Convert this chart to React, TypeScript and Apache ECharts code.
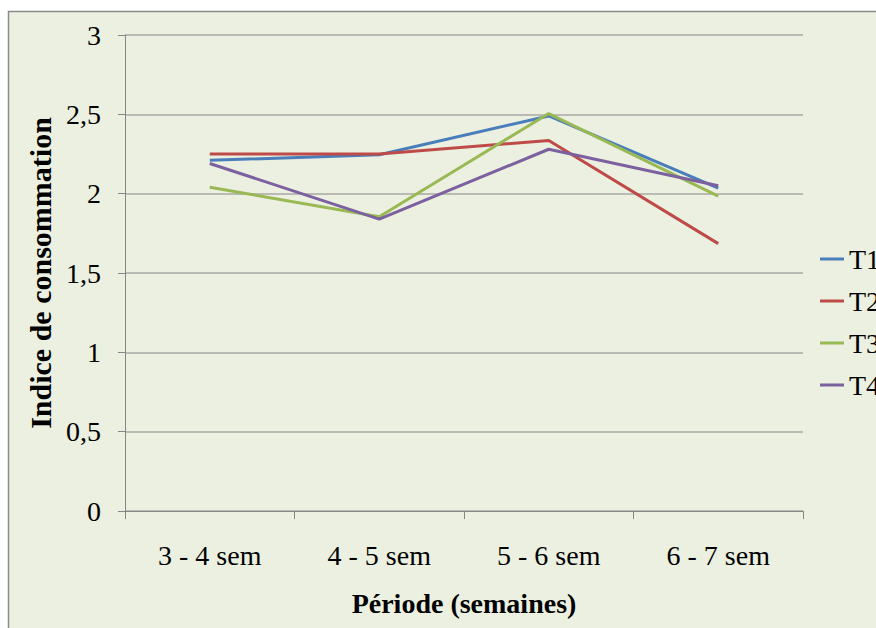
import React, { useEffect, useRef } from "react";
import * as echarts from "echarts";

const categories = ["3 - 4 sem", "4 - 5 sem", "5 - 6 sem", "6 - 7 sem"];
const seriesNames = ["T1", "T2", "T3", "T4"];
const t1 = [2.21, 2.245, 2.49, 2.035];
const t2 = [2.25, 2.25, 2.335, 1.685];
const t3 = [2.04, 1.855, 2.505, 1.985];
const t4 = [2.19, 1.84, 2.28, 2.05];
const seriesData = [t1, t2, t3, t4];
const colors = ["#4A7EBB", "#BE4B48", "#98B954", "#7D60A0"];
const yTicks = { min: 0, max: 3, interval: 0.5 };

const FONT = '"Liberation Serif", "Times New Roman", serif';

export default function App() {
  const ref = useRef<HTMLDivElement>(null);
  useEffect(() => {
    if (!ref.current) return;
    const chart = echarts.init(ref.current, undefined, { renderer: "svg" });
    chart.setOption({
      animation: false,
      backgroundColor: "#ffffff",
      textStyle: { fontFamily: FONT },
      graphic: [
        {
          type: "rect",
          z: -10,
          silent: true,
          shape: { x: 8.5, y: 11.5, width: 900, height: 700 },
          style: { fill: "#ECF0E0", stroke: "#8A8A8A", lineWidth: 1.5 },
        },
      ],
      grid: { left: 125, right: 73, top: 35, bottom: 117, containLabel: false },
      legend: {
        orient: "vertical",
        left: 820,
        top: 245,
        padding: 0,
        itemGap: 14,
        itemWidth: 24,
        itemHeight: 3,
        icon: "rect",
        data: seriesNames,
        textStyle: { fontFamily: FONT, fontSize: 28, color: "#000", lineHeight: 28 },
      },
      xAxis: {
        type: "category",
        data: categories,
        boundaryGap: true,
        name: "Période (semaines)",
        nameLocation: "middle",
        nameGap: 78,
        nameTextStyle: { fontFamily: FONT, fontSize: 28, fontWeight: "bold", color: "#000" },
        axisLine: { show: true, lineStyle: { color: "#868686", width: 1 } },
        axisTick: { show: true, alignWithLabel: false, length: 8, lineStyle: { color: "#868686" } },
        axisLabel: { fontFamily: FONT, fontSize: 28, color: "#000", margin: 30 },
        splitLine: { show: false },
      },
      yAxis: {
        type: "value",
        min: yTicks.min,
        max: yTicks.max,
        interval: yTicks.interval,
        name: "Indice de consommation",
        nameLocation: "middle",
        nameGap: 68,
        nameRotate: 90,
        nameTextStyle: { fontFamily: FONT, fontSize: 30, fontWeight: "bold", color: "#000" },
        axisLine: { show: true, lineStyle: { color: "#868686", width: 1 } },
        axisTick: { show: true, inside: false, length: 7, lineStyle: { color: "#868686" } },
        axisLabel: {
          fontFamily: FONT,
          fontSize: 28,
          color: "#000",
          margin: 24,
          formatter: (v: number) => String(v).replace(".", ","),
        },
        splitLine: { show: true, lineStyle: { color: "#A9A9A4", width: 1.5 } },
      },
      series: seriesNames.map((name, i) => ({
        name,
        type: "line",
        data: seriesData[i],
        symbol: "none",
        showSymbol: false,
        lineStyle: { color: colors[i], width: 3 },
        itemStyle: { color: colors[i] },
      })),
    });
    return () => chart.dispose();
  }, []);
  return (
    <div style={{ position: "fixed", left: 0, top: 0, width: 876, height: 628, background: "#fff" }}>
      <div ref={ref} style={{ width: 876, height: 628 }} />
    </div>
  );
}
